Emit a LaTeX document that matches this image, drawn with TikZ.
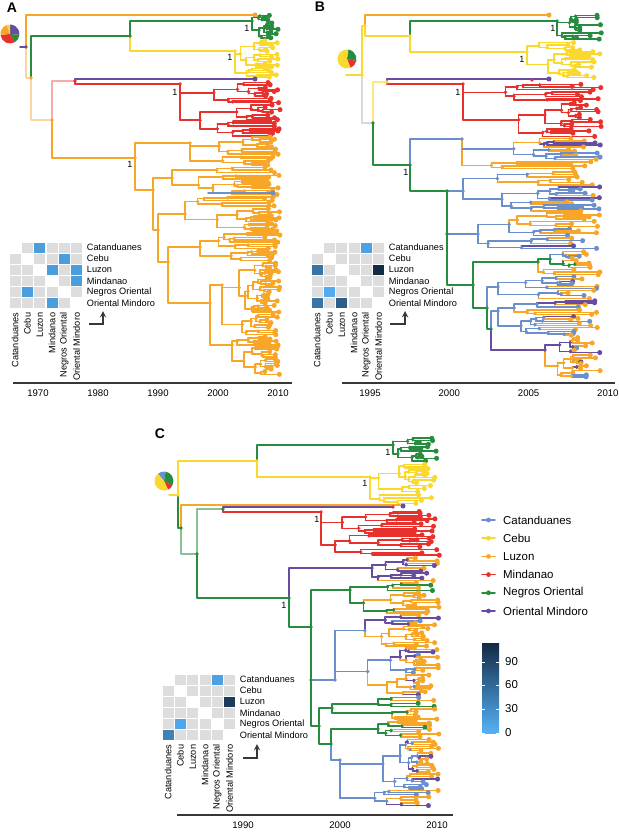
\documentclass[tikz,border=0pt]{standalone}
\usepackage{fontspec}
\setmainfont{Liberation Sans}

\definecolor{Catand}{RGB}{106,143,204}
\definecolor{Cebu}{RGB}{250,216,45}
\definecolor{Luzon}{RGB}{247,166,40}
\definecolor{Mindanao}{RGB}{232,48,45}
\definecolor{NegOr}{RGB}{40,140,64}
\definecolor{OrMindoro}{RGB}{104,76,160}
\definecolor{hmlow}{RGB}{86,177,247}
\definecolor{hmhigh}{RGB}{19,43,67}
\definecolor{cellgray}{RGB}{221,221,221}
\definecolor{axisgray}{RGB}{55,55,55}

\tikzset{every picture/.style={line width=0.75pt}}
\tikzset{
	br/.style={line width=1.2pt, line cap=round, line join=round},
	lab/.style={font=\fontsize{6.9}{8}\selectfont, inner sep=0.5pt},
	tick/.style={font=\fontsize{7.2}{8}\selectfont, inner sep=0.5pt},
	leg/.style={font=\fontsize{8.6}{10}\selectfont, inner sep=0.5pt},
	panel/.style={font=\fontsize{10.5}{12}\selectfont\bfseries, inner sep=0pt},
	supp/.style={font=\fontsize{6.8}{8}\selectfont, inner sep=0pt}}

% tree drawing helpers
\newcommand\noder{1.45pt}
\newcommand\tipr{1.9pt}
\newcommand\tipgap{3.4}
\newcommand\tipjit{8}
\newcommand\switchp{0}
\newcommand\tipluz{0}
\newcommand\mixlist{mixed}
\pgfmathdeclarerandomlist{mixed}{{Luzon}{Luzon}{Luzon}{Luzon}{OrMindoro}{OrMindoro}{OrMindoro}{Catand}{Catand}}

\newcommand\pickcol[1]{%
	\pgfmathsetmacro\rndv{rnd}%
	\ifdim\rndv pt<\switchp pt\relax
		\pgfmathrandomitem\pickc{\mixlist}%
	\else
		\def\pickc{#1}%
	\fi}

% #1 x parent, #2 y top, #3 y bottom, #4 colour, #5 x of tips
\newcommand\clade[5]{%
	\begingroup
	\pgfmathsetmacro\cH{#3-(#2)}%
	\pgfmathsetmacro\cY{(#2+#3)/2}%
	\ifdim\cH pt<\tipgap pt\relax
		\pgfmathsetmacro\cX{max(#1+4,#5-\tipjit*rnd)}%
		\pgfmathsetmacro\rndv{rnd}%
		\ifdim\rndv pt<\tipluz pt\relax\def\tipc{Luzon}\else\def\tipc{#4}\fi
		\draw[br,draw=\tipc] (#1,\cY) -- (\cX,\cY);
		\fill[fill=\tipc] (\cX,\cY) circle[radius=\tipr];
	\else
		\pgfmathsetmacro\cX{#1+max(0,#5-0.6*\tipjit-(#1))*(0.08+0.45*rnd)}%
		\edef\cladenext{\noexpand\branch{#1}{\cX}{\cY}{#2}{#3}{#4}{#5}}%
		\cladenext
	\fi
	\endgroup}

% #1 x parent, #2 x node, #3 y node, #4 y top, #5 y bottom, #6 colour, #7 x of tips
\newcommand\branch[7]{%
	\begingroup
	\pgfmathsetmacro\cM{#4+(#5-(#4))*(0.25+0.5*rnd)}%
	\pgfmathsetmacro\cA{(#4+\cM)/2}%
	\pgfmathsetmacro\cB{(\cM+#5)/2}%
	\pickcol{#6}\let\colA\pickc
	\pickcol{#6}\let\colB\pickc
	\draw[br,draw=#6] (#1,#3) -- (#2,#3);
	\draw[br,draw=\colA] (#2,#3) -- (#2,\cA);
	\draw[br,draw=\colB] (#2,#3) -- (#2,\cB);
	\edef\cladenext{\noexpand\clade{#2}{#4}{\cM}{\colA}{#7}\noexpand\clade{#2}{\cM}{#5}{\colB}{#7}}%
	\cladenext
	\fill[fill=#6] (#2,#3) circle[radius=\noder];
	\endgroup}

\newcommand\pieslice[3]{\fill[fill=#3] (0,0) -- (#1:9.5) arc[start angle=#1, end angle=#2, radius=9.5] -- cycle;}

\newcommand\hmgrid[2]{%
	\foreach \hr in {0,...,5}{\foreach \hc in {0,...,5}{%
		\ifnum\hr=\hc\else
			\fill[cellgray] ({#1+\hc*12.3+0.6},{#2+\hr*11.1+0.6}) rectangle ++(11.1,9.9);
		\fi}}}
\newcommand\hmcell[5]{\fill[hmhigh!#5!hmlow] ({#1+#4*12.3+0.6},{#2+#3*11.1+0.6}) rectangle ++(11.1,9.9);}
\newcommand\hmlabels[2]{%
	\foreach \nm [count=\i from 0] in {Catanduanes,Cebu,Luzon,Mindanao,Negros Oriental,Oriental Mindoro}{%
		\node[lab,anchor=west] (#2r\i) at ({#1+6*12.3+3},{\hmy+(\i+0.5)*11.1}) {\nm};
		\node[lab,anchor=east,rotate=90] (#2c\i) at ({#1+(\i+0.5)*12.3},{\hmy+6*11.1+3}) {\nm};}}

\begin{document}
\begin{tikzpicture}[x=0.75pt,y=0.75pt,yscale=-1,xscale=1]
	\useasboundingbox (0,0) rectangle (618,832);
	\fill[white] (0,0) rectangle (618,832);

	%%%%%%%%%%%%%%%% Panel A %%%%%%%%%%%%%%%%
	\renewcommand\tipjit{16}
	\renewcommand\switchp{0}
	% backbone
	\draw[br,draw=Luzon] (26,47) -- (26,15) -- (255,15);
	\fill[Luzon] (255,15) circle[radius=\tipr];
	\draw[br,draw=Luzon!45] (26,47) -- (26,78) -- (31,78);
	\draw[br,draw=OrMindoro] (20,47) -- (26,47);
	\draw[br,draw=NegOr] (31,78) -- (31,36) -- (130,36) -- (130,21);
	\draw[br,draw=Cebu] (130,36) -- (130,51);
	\pgfmathsetseed{3}
	\branch{130}{252}{21}{14}{39}{NegOr}{279}
	\branch{130}{235}{51}{40}{78}{Cebu}{278}
	\fill[NegOr] (130,36) circle[radius=\noder];
	\draw[br,draw=Luzon!45] (31,78) -- (31,120) -- (52,120);
	\draw[br,draw=Mindanao!40] (52,120) -- (52,81) -- (75,81);
	\draw[br,draw=OrMindoro] (75,81) -- (75,79) -- (255,79);
	\fill[OrMindoro] (255,79) circle[radius=\tipr];
	\draw[br,draw=Mindanao] (75,81) -- (75,84);
	\branch{75}{180}{84}{82}{137}{Mindanao}{280}
	\fill[Mindanao] (75,81) circle[radius=\noder];
	% Luzon clade
	\draw[br,draw=Luzon] (52,120) -- (52,158) -- (135,158);
	\draw[br,draw=Luzon] (135,143) -- (135,190) -- (153,190);
	\branch{135}{190}{143}{136}{166}{Luzon}{280}
	\draw[br,draw=Luzon] (153,178) -- (153,230) -- (158,230);
	\branch{153}{172}{178}{166}{196}{Luzon}{280}
	\draw[br,draw=Luzon] (158,214) -- (158,262) -- (168,262);
	\branch{158}{185}{214}{196}{232}{Luzon}{280}
	\draw[br,draw=Luzon] (168,247) -- (168,303) -- (210,303);
	\branch{168}{200}{247}{232}{262}{Luzon}{280}
	\draw[br,draw=Luzon] (210,285) -- (210,345);
	\branch{210}{222}{285}{262}{336}{Luzon}{280}
	\branch{210}{232}{345}{336}{376}{Luzon}{280}
	\draw[br,draw=Catand] (208,193) -- (273,193);
	\fill[Catand] (273,193) circle[radius=\tipr];
	\foreach \p in {(31,78),(52,120),(135,158),(153,190),(158,230),(168,262),(210,303)}
		\fill[Luzon] \p circle[radius=\noder];
	\fill[OrMindoro] (26,47) circle[radius=\noder];
	% pie
	\begin{scope}[shift={(10,34)},yscale=-1]
		\pieslice{-5}{90}{OrMindoro}
		\pieslice{-60}{-5}{NegOr}
		\pieslice{-175}{-60}{Mindanao}
		\pieslice{110}{185}{Luzon}
		\pieslice{90}{110}{Cebu}
	\end{scope}
	% Text Node
	\node[supp] (sA1) at (247,28) {1};
	\node[supp] (sA2) at (230,57) {1};
	\node[supp] (sA3) at (175,92) {1};
	\node[supp] (sA4) at (130,164) {1};
	\node[panel] (lblA) at (12,8) {A};
	% heatmap
	\def\hmy{242}
	\hmgrid{9}{242}
	\hmcell{9}{242}{0}{2}{15}
	\hmcell{9}{242}{1}{4}{15}
	\hmcell{9}{242}{2}{3}{15}
	\hmcell{9}{242}{2}{5}{15}
	\hmcell{9}{242}{3}{5}{15}
	\hmcell{9}{242}{4}{1}{15}
	\hmcell{9}{242}{5}{3}{15}
	\hmlabels{9}{hmA}
	\draw[axisgray,line width=1.1pt,-stealth] (89,324) -- (103,324) -- (103,311);
	% axis
	\draw[axisgray,line width=1.1pt] (13,383) -- (292,383);
	\foreach \yr [count=\i from 0] in {1970,1980,1990,2000,2010}
		\node[tick] (axA\i) at ({38+\i*60},393) {\yr};

	%%%%%%%%%%%%%%%% Panel B %%%%%%%%%%%%%%%%
	\renewcommand\tipjit{34}
	\draw[br,draw=Cebu] (346,75) -- (362,75) -- (362,26) -- (365,26);
	\draw[br,draw=Luzon] (365,26) -- (365,15) -- (549,15);
	\fill[Luzon] (549,15) circle[radius=\tipr];
	\draw[br,draw=Cebu] (365,26) -- (365,36) -- (410,36);
	\draw[br,draw=NegOr] (410,36) -- (410,21);
	\draw[br,draw=Cebu] (410,36) -- (410,52);
	\pgfmathsetseed{17}
	\branch{410}{557}{21}{14}{40}{NegOr}{602}
	\branch{410}{527}{52}{41}{78}{Cebu}{601}
	\fill[Cebu] (410,36) circle[radius=\noder];
	\fill[Cebu] (365,26) circle[radius=\noder];
	\draw[br,draw=black!15] (362,75) -- (362,123) -- (373,123);
	\draw[br,draw=Cebu!60] (373,123) -- (373,82) -- (387,82);
	\draw[br,draw=OrMindoro] (387,82) -- (387,79) -- (549,79);
	\fill[OrMindoro] (549,79) circle[radius=\tipr];
	\draw[br,draw=Mindanao] (387,82) -- (387,84);
	\branch{387}{463}{84}{83}{138}{Mindanao}{603}
	\fill[Cebu] (387,82) circle[radius=\noder];
	\fill[Mindanao] (532,80) circle[radius=\noder];
	\draw[br,draw=NegOr] (373,123) -- (373,165) -- (410,165);
	% mixed clade
	\renewcommand\switchp{0.26}
	\renewcommand\tipluz{0.55}
	\draw[br,draw=Catand] (410,165) -- (410,139);
	\branch{410}{462}{139}{137}{170}{Catand}{601}
	\draw[br,draw=NegOr] (410,165) -- (410,191) -- (447,191) -- (447,285) -- (473,285);
	\branch{447}{463}{191}{171}{212}{Catand}{601}
	\branch{447}{478}{234}{212}{250}{Catand}{601}
	\draw[br,draw=NegOr] (473,262) -- (473,308) -- (487,308);
	\branch{473}{538}{262}{250}{276}{NegOr}{601}
	\draw[br,draw=NegOr] (487,308) -- (487,329) -- (491,329);
	\draw[br,draw=Catand] (487,308) -- (487,287);
	\branch{487}{498}{287}{276}{300}{Catand}{601}
	\draw[br,draw=Catand] (491,329) -- (491,311);
	\draw[br,draw=OrMindoro] (491,329) -- (491,350);
	\branch{491}{498}{311}{300}{336}{Catand}{601}
	\branch{491}{545}{350}{336}{378}{OrMindoro}{601}
	\renewcommand\switchp{0}
	\renewcommand\tipluz{0}
	\foreach \p in {(373,123),(410,165),(447,191),(447,234),(473,285),(487,308),(491,329)}
		\fill[NegOr] \p circle[radius=\noder];
	\fill[Cebu] (362,75) circle[radius=\noder];
	% pie
	\begin{scope}[shift={(347,59)},yscale=-1]
		\pieslice{-12}{82}{NegOr}
		\pieslice{-68}{-12}{Mindanao}
		\pieslice{82}{292}{Cebu}
	\end{scope}
	% Text Node
	\node[supp] (sB1) at (553,28) {1};
	\node[supp] (sB2) at (522,59) {1};
	\node[supp] (sB3) at (458,92) {1};
	\node[supp] (sB4) at (406,172) {1};
	\node[panel] (lblB) at (320,7) {B};
	% heatmap
	\def\hmy{242}
	\hmgrid{311}{242}
	\hmcell{311}{242}{0}{4}{12}
	\hmcell{311}{242}{2}{0}{45}
	\hmcell{311}{242}{2}{5}{100}
	\hmcell{311}{242}{4}{1}{5}
	\hmcell{311}{242}{5}{0}{45}
	\hmcell{311}{242}{5}{2}{62}
	\hmlabels{311}{hmB}
	\draw[axisgray,line width=1.1pt,-stealth] (390,324) -- (405,324) -- (405,311);
	% axis
	\draw[axisgray,line width=1.1pt] (342,383) -- (615,383);
	\foreach \yr [count=\i from 0] in {1995,2000,2005,2010}
		\node[tick] (axB\i) at ({370+\i*79.3},393) {\yr};

	%%%%%%%%%%%%%%%% Panel C %%%%%%%%%%%%%%%%
	\renewcommand\tipjit{26}
	\draw[br,draw=Cebu] (169,495) -- (178,495) -- (178,461) -- (257,461);
	\draw[br,draw=NegOr] (257,461) -- (257,445);
	\draw[br,draw=Cebu] (257,461) -- (257,477);
	\pgfmathsetseed{29}
	\branch{257}{393}{445}{437}{462}{NegOr}{440}
	\branch{257}{370}{477}{463}{505}{Cebu}{439}
	\fill[Cebu] (257,461) circle[radius=\noder];
	\draw[br,draw=NegOr] (178,495) -- (178,528) -- (181,528);
	\draw[br,draw=Luzon] (181,528) -- (181,505) -- (400,505);
	\fill[OrMindoro] (403,506) circle[radius=\tipr];
	\draw[br,draw=NegOr!55] (181,528) -- (181,554) -- (197,554) -- (197,509) -- (223,509);
	\draw[br,draw=OrMindoro] (223,509) -- (223,507) -- (393,507);
	\fill[Mindanao!70!OrMindoro] (393,507) circle[radius=\noder];
	\draw[br,draw=Mindanao] (223,509) -- (223,512);
	\branch{223}{321}{512}{511}{556}{Mindanao}{440}
	\fill[NegOr] (223,509) circle[radius=\noder];
	\draw[br,draw=NegOr] (197,554) -- (197,598) -- (289,598);
	% mixed clade
	\renewcommand\switchp{0.26}
	\renewcommand\tipluz{0.55}
	\draw[br,draw=OrMindoro] (289,598) -- (289,568);
	\branch{289}{372}{568}{557}{582}{OrMindoro}{439}
	\draw[br,draw=NegOr] (289,598) -- (289,627) -- (311,627);
	\draw[br,draw=NegOr] (311,590) -- (311,726) -- (319,726);
	\branch{311}{350}{590}{582}{614}{NegOr}{439}
	\branch{311}{335}{680}{614}{696}{Catand}{439}
	\draw[br,draw=NegOr] (332,708) -- (319,708) -- (319,744) -- (331,744);
	\draw[br,draw=NegOr] (332,704) -- (332,713);
	\branch{332}{378}{704}{696}{708}{NegOr}{439}
	\branch{332}{392}{713}{708}{720}{NegOr}{439}
	\draw[br,draw=NegOr] (331,729) -- (331,744);
	\draw[br,draw=Catand] (331,744) -- (331,760);
	\branch{331}{378}{729}{720}{738}{NegOr}{439}
	\branch{331}{340}{760}{738}{807}{Catand}{439}
	\renewcommand\switchp{0}
	\renewcommand\tipluz{0}
	\foreach \p in {(181,528),(197,554),(289,598),(311,627),(311,680),(319,726),(332,708),(331,744)}
		\fill[NegOr] \p circle[radius=\noder];
	\fill[Cebu] (178,495) circle[radius=\noder];
	% pie
	\begin{scope}[shift={(164,481)},yscale=-1]
		\pieslice{80}{130}{Catand}
		\pieslice{-28}{80}{NegOr}
		\pieslice{-65}{-28}{Mindanao}
		\pieslice{130}{295}{Cebu}
	\end{scope}
	% Text Node
	\node[supp] (sC1) at (388,452) {1};
	\node[supp] (sC2) at (365,483) {1};
	\node[supp] (sC3) at (317,519) {1};
	\node[supp] (sC4) at (284,605) {1};
	\node[panel] (lblC) at (160,434) {C};
	% heatmap
	\def\hmy{674}
	\hmgrid{162}{674}
	\hmcell{162}{674}{0}{4}{12}
	\hmcell{162}{674}{2}{5}{88}
	\hmcell{162}{674}{4}{1}{8}
	\hmcell{162}{674}{5}{0}{35}
	\hmlabels{162}{hmC}
	\draw[axisgray,line width=1.1pt,-stealth] (243,758) -- (257,758) -- (257,744);
	% axis
	\draw[axisgray,line width=1.1pt] (177,815) -- (453,815);
	\foreach \yr [count=\i from 0] in {1990,2000,2010}
		\node[tick] (axC\i) at ({243+\i*97},825) {\yr};

	%%%%%%%%%%%%%%%% Legend %%%%%%%%%%%%%%%%
	\foreach \col/\nm [count=\i from 0] in {Catand/Catanduanes,Cebu/Cebu,Luzon/Luzon,Mindanao/Mindanao,NegOr/Negros Oriental,OrMindoro/Oriental Mindoro}{
		\draw[br,draw=\col] (482,{520+\i*18.2}) -- (495,{520+\i*18.2});
		\fill[\col] (488.5,{520+\i*18.2}) circle[radius=1.8pt];
		\node[leg,anchor=west] (leg\i) at (502,{520+\i*18.2}) {\nm};
	}
	% colour bar
	\shade[bottom color=hmlow, top color=hmhigh] (482,643) rectangle (499,733);
	\foreach \v/\yy [count=\i from 0] in {90/662,60/685,30/709,0/733}{
		\draw[white,line width=0.6pt] (482,\yy) -- (485,\yy) (496,\yy) -- (499,\yy);
		\node[leg,anchor=west] (cb\i) at (504,\yy) {\v};
	}
\end{tikzpicture}
\end{document}
